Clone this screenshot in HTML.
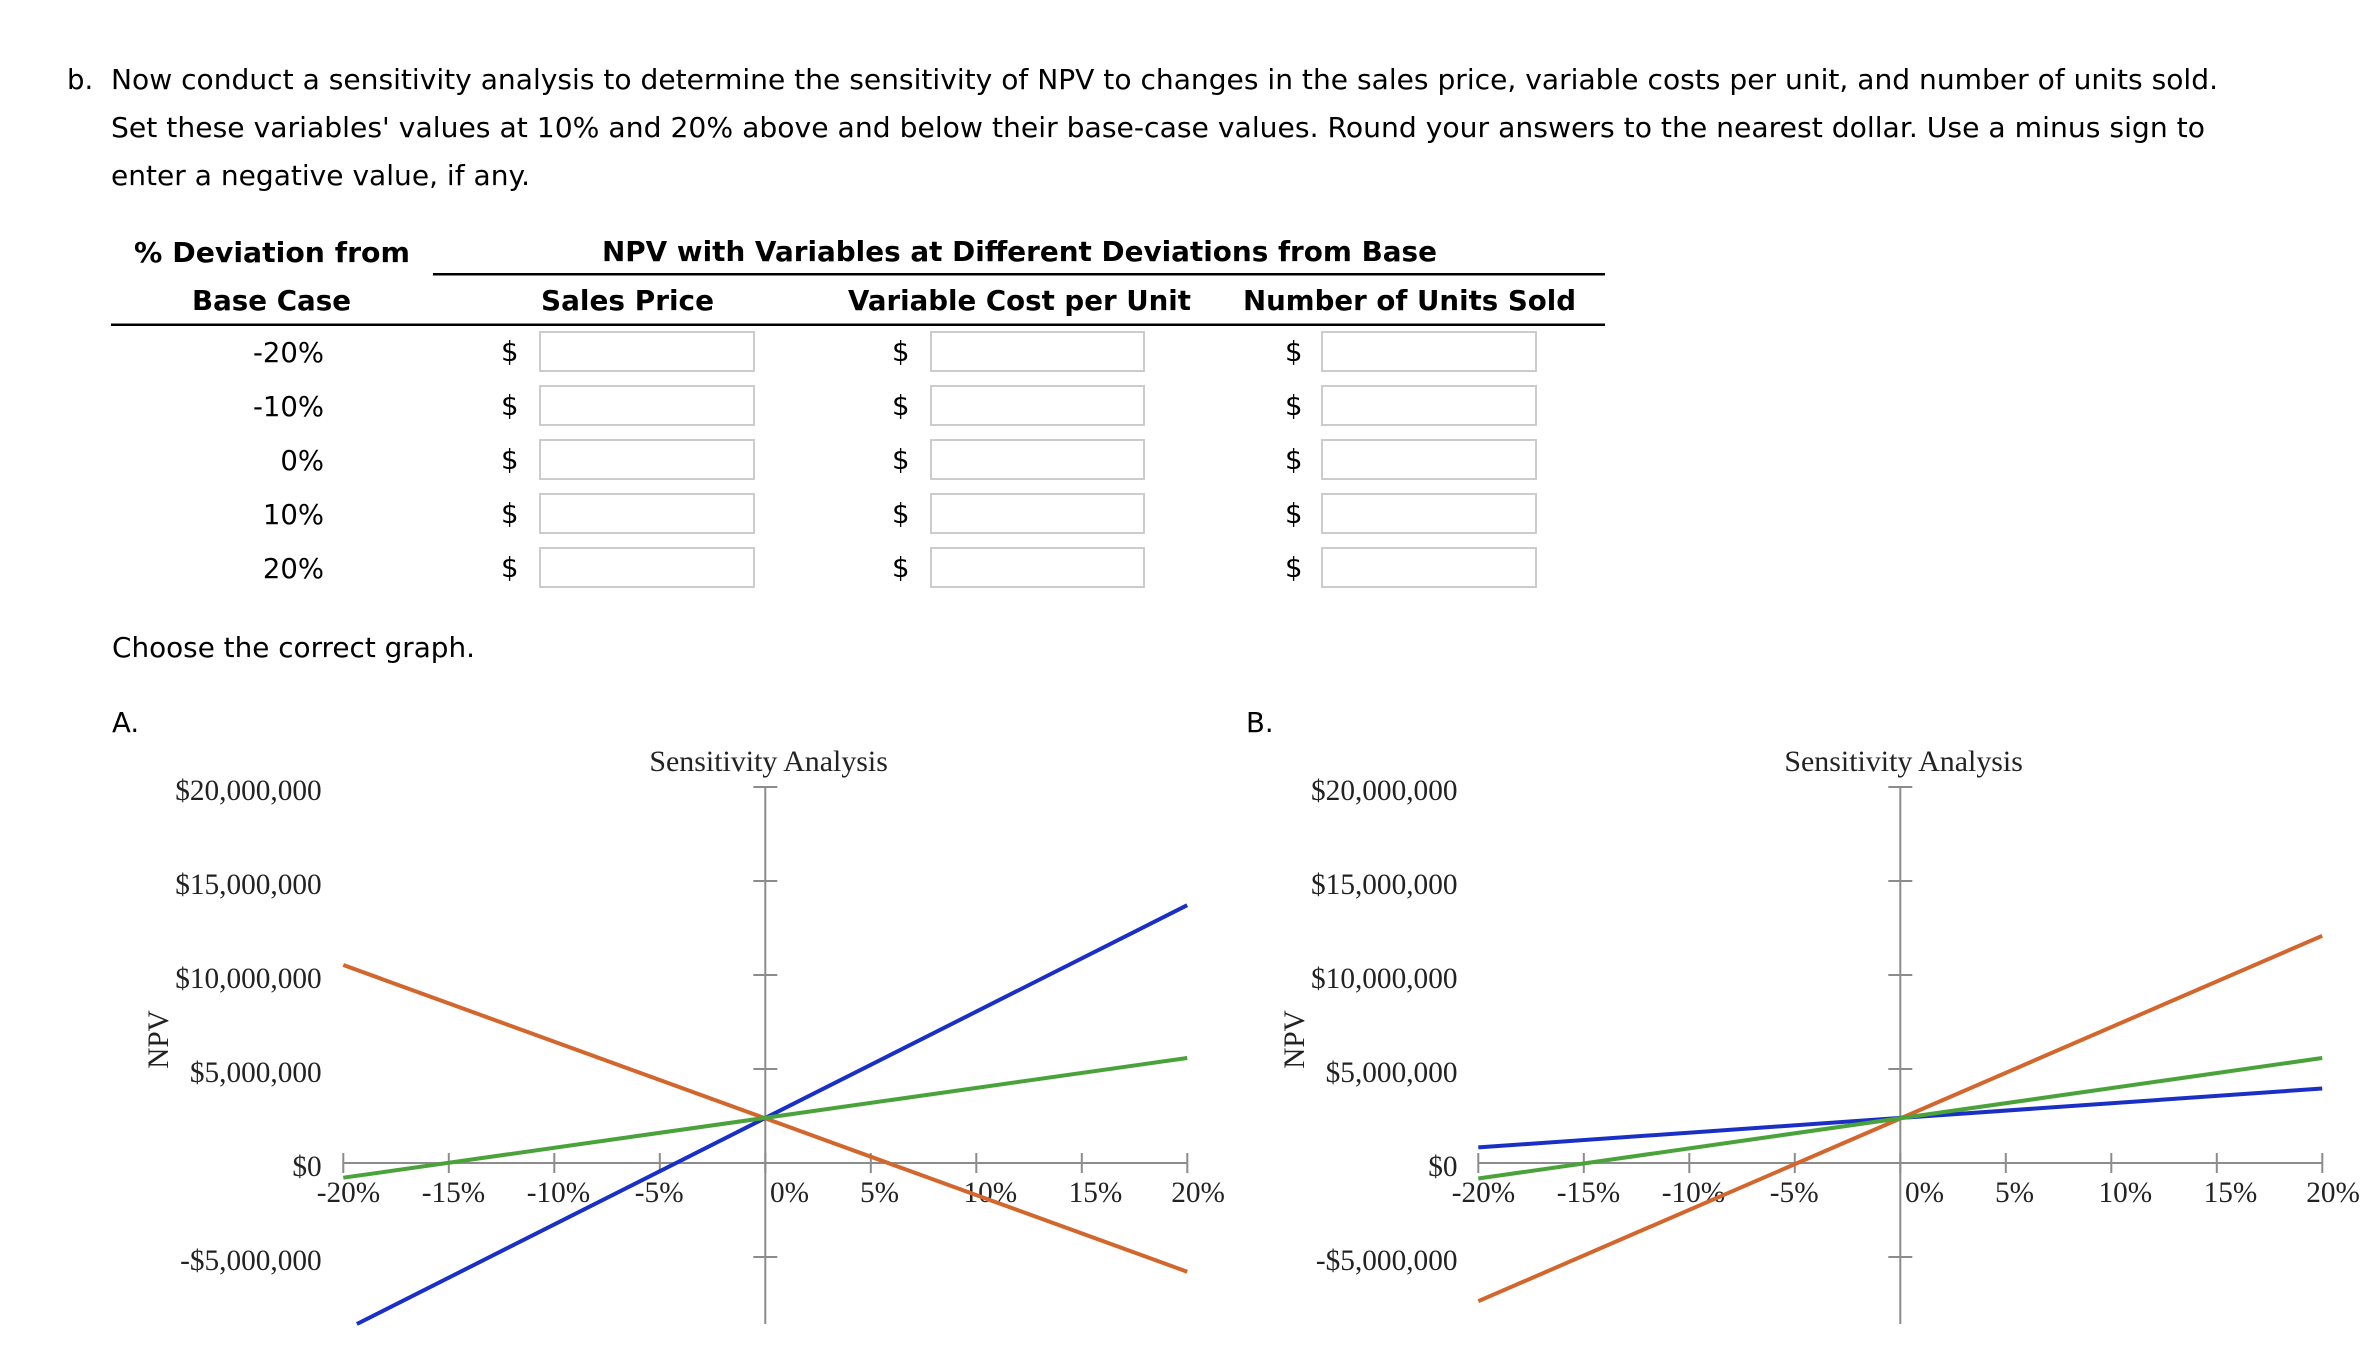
<!DOCTYPE html>
<html>
<head>
<meta charset="utf-8">
<style>
html,body{margin:0;padding:0;background:#fff;}
svg{display:block;}
.t{font-family:"DejaVu Sans","Liberation Sans",sans-serif;font-size:27.5px;fill:#000;}
.b{font-weight:bold;}
.c{font-family:"Liberation Serif",serif;font-size:29.3px;fill:#222;}
</style>
</head>
<body>
<svg width="2368" height="1354" viewBox="0 0 2368 1354" xmlns="http://www.w3.org/2000/svg">
<rect x="0" y="0" width="2368" height="1354" fill="#fff"/>

<!-- Paragraph -->
<text class="t" x="67" y="89">b.</text>
<text class="t" x="111" y="89" textLength="2107" lengthAdjust="spacingAndGlyphs">Now conduct a sensitivity analysis to determine the sensitivity of NPV to changes in the sales price, variable costs per unit, and number of units sold.</text>
<text class="t" x="111" y="137" textLength="2094" lengthAdjust="spacingAndGlyphs">Set these variables' values at 10% and 20% above and below their base-case values. Round your answers to the nearest dollar. Use a minus sign to</text>
<text class="t" x="111" y="185" textLength="419" lengthAdjust="spacingAndGlyphs">enter a negative value, if any.</text>

<!-- Table header -->
<text class="t b" x="134" y="262" textLength="276" lengthAdjust="spacingAndGlyphs">% Deviation from</text>
<text class="t b" x="602" y="261" textLength="835" lengthAdjust="spacingAndGlyphs">NPV with Variables at Different Deviations from Base</text>
<rect x="433" y="273" width="1172" height="2.5" fill="#000"/>
<text class="t b" x="192" y="310" textLength="159" lengthAdjust="spacingAndGlyphs">Base Case</text>
<text class="t b" x="541" y="310" textLength="173" lengthAdjust="spacingAndGlyphs">Sales Price</text>
<text class="t b" x="848" y="310" textLength="343" lengthAdjust="spacingAndGlyphs">Variable Cost per Unit</text>
<text class="t b" x="1243" y="310" textLength="333" lengthAdjust="spacingAndGlyphs">Number of Units Sold</text>
<rect x="111" y="323.5" width="1494" height="2.5" fill="#000"/>

<!-- Table rows -->
<g>
<text class="t" x="324" y="362" text-anchor="end">-20%</text>
<text class="t" x="324" y="416" text-anchor="end">-10%</text>
<text class="t" x="324" y="470" text-anchor="end">0%</text>
<text class="t" x="324" y="524" text-anchor="end">10%</text>
<text class="t" x="324" y="578" text-anchor="end">20%</text>
</g>
<g class="t">
<text class="t" x="501" y="361">$</text><text class="t" x="892" y="361">$</text><text class="t" x="1285" y="361">$</text>
<text class="t" x="501" y="415">$</text><text class="t" x="892" y="415">$</text><text class="t" x="1285" y="415">$</text>
<text class="t" x="501" y="469">$</text><text class="t" x="892" y="469">$</text><text class="t" x="1285" y="469">$</text>
<text class="t" x="501" y="523">$</text><text class="t" x="892" y="523">$</text><text class="t" x="1285" y="523">$</text>
<text class="t" x="501" y="577">$</text><text class="t" x="892" y="577">$</text><text class="t" x="1285" y="577">$</text>
</g>
<g fill="#fff" stroke="#cccccc" stroke-width="2">
<rect x="540" y="332" width="214" height="39"/><rect x="931" y="332" width="213" height="39"/><rect x="1322" y="332" width="214" height="39"/>
<rect x="540" y="386" width="214" height="39"/><rect x="931" y="386" width="213" height="39"/><rect x="1322" y="386" width="214" height="39"/>
<rect x="540" y="440" width="214" height="39"/><rect x="931" y="440" width="213" height="39"/><rect x="1322" y="440" width="214" height="39"/>
<rect x="540" y="494" width="214" height="39"/><rect x="931" y="494" width="213" height="39"/><rect x="1322" y="494" width="214" height="39"/>
<rect x="540" y="548" width="214" height="39"/><rect x="931" y="548" width="213" height="39"/><rect x="1322" y="548" width="214" height="39"/>
</g>

<text class="t" x="112" y="657" textLength="363" lengthAdjust="spacingAndGlyphs">Choose the correct graph.</text>
<text class="t" x="112" y="732">A.</text>
<text class="t" x="1246" y="732">B.</text>

<!-- Chart A -->
<g>
<text class="c" x="649.4" y="771" textLength="238.5" lengthAdjust="spacingAndGlyphs">Sensitivity Analysis</text>
<g text-anchor="end">
<text class="c" x="321.7" y="800">$20,000,000</text>
<text class="c" x="321.7" y="894">$15,000,000</text>
<text class="c" x="321.7" y="988">$10,000,000</text>
<text class="c" x="321.7" y="1082">$5,000,000</text>
<text class="c" x="321.7" y="1176">$0</text>
<text class="c" x="321.7" y="1270">-$5,000,000</text>
</g>
<text class="c" transform="translate(168,1039.5) rotate(-90)" text-anchor="middle">NPV</text>
<g stroke="#8c8c8c" stroke-width="2" fill="none">
<line x1="343.3" y1="1163" x2="1187.3" y2="1163"/>
<line x1="765.3" y1="787" x2="765.3" y2="1324"/>
<line x1="343.3" y1="1153" x2="343.3" y2="1173"/>
<line x1="448.8" y1="1153" x2="448.8" y2="1173"/>
<line x1="554.3" y1="1153" x2="554.3" y2="1173"/>
<line x1="659.8" y1="1153" x2="659.8" y2="1173"/>
<line x1="765.3" y1="1153" x2="765.3" y2="1173"/>
<line x1="870.8" y1="1153" x2="870.8" y2="1173"/>
<line x1="976.3" y1="1153" x2="976.3" y2="1173"/>
<line x1="1081.8" y1="1153" x2="1081.8" y2="1173"/>
<line x1="1187.3" y1="1153" x2="1187.3" y2="1173"/>
<line x1="753.3" y1="787" x2="777.3" y2="787"/>
<line x1="753.3" y1="881" x2="777.3" y2="881"/>
<line x1="753.3" y1="975" x2="777.3" y2="975"/>
<line x1="753.3" y1="1069" x2="777.3" y2="1069"/>
<line x1="753.3" y1="1163" x2="777.3" y2="1163"/>
<line x1="753.3" y1="1257" x2="777.3" y2="1257"/>
</g>
<text class="c" x="316.7" y="1202">-20%</text>
<text class="c" x="421.7" y="1202">-15%</text>
<text class="c" x="526.7" y="1202">-10%</text>
<text class="c" x="634.8" y="1202">-5%</text>
<text class="c" x="770" y="1202">0%</text>
<text class="c" x="860" y="1202">5%</text>
<text class="c" x="963.5" y="1202">10%</text>
<text class="c" x="1068.6" y="1202">15%</text>
<text class="c" x="1171.2" y="1202">20%</text>
<g stroke-width="4" fill="none">
<line x1="343.3" y1="965" x2="1187.2" y2="1271.7" stroke="#d2662c"/>
<line x1="356.9" y1="1324" x2="1187.2" y2="905.2" stroke="#1a2fc4"/>
<line x1="343.3" y1="1177.7" x2="1187.2" y2="1058" stroke="#4aa33a"/>
</g>
</g>

<!-- Chart B -->
<g transform="translate(1135,0)">
<text class="c" x="649.4" y="771" textLength="238.5" lengthAdjust="spacingAndGlyphs">Sensitivity Analysis</text>
<g text-anchor="end">
<text class="c" x="322.5" y="800">$20,000,000</text>
<text class="c" x="322.5" y="894">$15,000,000</text>
<text class="c" x="322.5" y="988">$10,000,000</text>
<text class="c" x="322.5" y="1082">$5,000,000</text>
<text class="c" x="322.5" y="1176">$0</text>
<text class="c" x="322.5" y="1270">-$5,000,000</text>
</g>
<text class="c" transform="translate(169,1039.5) rotate(-90)" text-anchor="middle">NPV</text>
<g stroke="#8c8c8c" stroke-width="2" fill="none">
<line x1="343.3" y1="1163" x2="1187.3" y2="1163"/>
<line x1="765.3" y1="787" x2="765.3" y2="1324"/>
<line x1="343.3" y1="1153" x2="343.3" y2="1173"/>
<line x1="448.8" y1="1153" x2="448.8" y2="1173"/>
<line x1="554.3" y1="1153" x2="554.3" y2="1173"/>
<line x1="659.8" y1="1153" x2="659.8" y2="1173"/>
<line x1="765.3" y1="1153" x2="765.3" y2="1173"/>
<line x1="870.8" y1="1153" x2="870.8" y2="1173"/>
<line x1="976.3" y1="1153" x2="976.3" y2="1173"/>
<line x1="1081.8" y1="1153" x2="1081.8" y2="1173"/>
<line x1="1187.3" y1="1153" x2="1187.3" y2="1173"/>
<line x1="753.3" y1="787" x2="777.3" y2="787"/>
<line x1="753.3" y1="881" x2="777.3" y2="881"/>
<line x1="753.3" y1="975" x2="777.3" y2="975"/>
<line x1="753.3" y1="1069" x2="777.3" y2="1069"/>
<line x1="753.3" y1="1163" x2="777.3" y2="1163"/>
<line x1="753.3" y1="1257" x2="777.3" y2="1257"/>
</g>
<text class="c" x="316.7" y="1202">-20%</text>
<text class="c" x="421.7" y="1202">-15%</text>
<text class="c" x="526.7" y="1202">-10%</text>
<text class="c" x="634.8" y="1202">-5%</text>
<text class="c" x="770" y="1202">0%</text>
<text class="c" x="860" y="1202">5%</text>
<text class="c" x="963.5" y="1202">10%</text>
<text class="c" x="1068.6" y="1202">15%</text>
<text class="c" x="1171.2" y="1202">20%</text>
<g stroke-width="4" fill="none">
<line x1="343.3" y1="1301.2" x2="1187.2" y2="935.8" stroke="#d2662c"/>
<line x1="343.3" y1="1147.4" x2="1187.2" y2="1088.5" stroke="#1a2fc4"/>
<line x1="343.3" y1="1178.5" x2="1187.2" y2="1058" stroke="#4aa33a"/>
</g>
</g>
</svg>
</body>
</html>
